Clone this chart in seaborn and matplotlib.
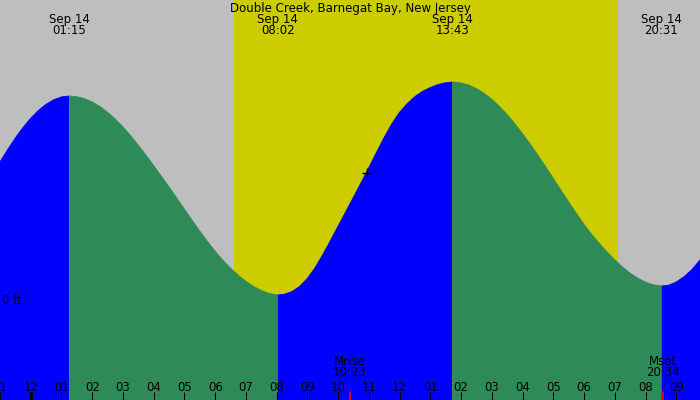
import numpy as np
import pandas as pd
import matplotlib
matplotlib.use("Agg")
import matplotlib.pyplot as plt
import matplotlib.transforms as mtransforms
import seaborn as sns

# --- data ---
station = "Double Creek, Barnegat Bay, New Jersey"
date_label = "Sep 14"

# hours after midnight Sep 14, tide height in feet (read every quarter hour)
tide_hours = [-1.0, -0.75, -0.5, -0.25, 0.0, 0.25, 0.5, 0.75, 1.0, 1.25,
              1.5, 1.75, 2.0, 2.25, 2.5, 2.75, 3.0, 3.25, 3.5, 3.75, 4.0, 4.25,
              4.5, 4.75, 5.0, 5.25, 5.5, 5.75, 6.0, 6.25, 6.5, 6.75, 7.0, 7.25,
              7.5, 7.75, 8.033,
              8.25, 8.5, 8.75, 9.0, 9.25, 9.5, 9.75, 10.0, 10.25, 10.5, 10.75,
              11.0, 11.25, 11.5, 11.75, 12.0, 12.25, 12.5, 12.75, 13.0, 13.25,
              13.5, 13.717,
              14.0, 14.25, 14.5, 14.75, 15.0, 15.25, 15.5, 15.75, 16.0, 16.25,
              16.5, 16.75, 17.0, 17.25, 17.5, 17.75, 18.0, 18.25, 18.5, 18.75,
              19.0, 19.25, 19.5, 19.75, 20.0, 20.25, 20.517,
              20.75, 21.0, 21.25, 21.5, 21.75, 22.0]
tide_feet = [1.392, 1.515, 1.631, 1.736, 1.828, 1.906, 1.968, 2.013, 2.041, 2.05,
             2.043, 2.023, 1.991, 1.945, 1.888, 1.819, 1.741, 1.653, 1.558, 1.457, 1.353, 1.247,
             1.14, 1.03, 0.918, 0.807, 0.698, 0.594, 0.497, 0.408, 0.328, 0.258, 0.197, 0.145,
             0.105, 0.076, 0.06,
             0.068, 0.095, 0.147, 0.227, 0.334, 0.464, 0.605, 0.75, 0.895, 1.04, 1.186,
             1.335, 1.488, 1.638, 1.775, 1.888, 1.975, 2.045, 2.098, 2.135, 2.165,
             2.183, 2.19,
             2.181, 2.159, 2.124, 2.076, 2.016, 1.945, 1.863, 1.772, 1.673, 1.568,
             1.457, 1.342, 1.225, 1.107, 0.99, 0.876, 0.765, 0.665, 0.574, 0.489,
             0.411, 0.34, 0.278, 0.227, 0.188, 0.162, 0.15,
             0.158, 0.191, 0.243, 0.312, 0.403, 0.504]

extreme_hours = [1.25, 8.033, 13.717, 20.517]
extreme_times = ["01:15", "08:02", "13:43", "20:31"]
extreme_kinds = ["high", "low", "high", "low"]

sunrise_hour = 6.607
sunset_hour = 19.107

moon_hours = [10.383, 20.567]
moon_names = ["Mrise", "Mset"]
moon_times = ["10:23", "20:34"]

now_hour = 10.925
now_feet = 1.28

hour_ticks = list(range(-1, 22))
hour_labels = ["11", "12", "01", "02", "03", "04", "05", "06", "07", "08", "09", "10",
               "11", "12", "01", "02", "03", "04", "05", "06", "07", "08", "09"]

# colours
night = "#BEBEBE"
day = "#CCCC00"
palette = {"rising": "#0000FF", "falling": "#2E8B57"}

# --- split curve into rising / falling pieces ---
df = pd.DataFrame({"hour": tide_hours, "feet": tide_feet})
bounds = [tide_hours[0]] + extreme_hours + [tide_hours[-1]]
parts = []
for i in range(len(bounds) - 1):
    seg = df[(df.hour >= bounds[i]) & (df.hour <= bounds[i + 1])].copy()
    if i < len(extreme_kinds):
        rising = extreme_kinds[i] == "high"
    else:
        rising = extreme_kinds[-1] == "low"
    seg["segment"] = i
    seg["phase"] = "rising" if rising else "falling"
    parts.append(seg)
curve = pd.concat(parts, ignore_index=True)

# --- plot ---
sns.set_theme(style="white")
plt.rcParams["font.family"] = ["DejaVu Sans"]
plt.rcParams["text.color"] = "black"

fig = plt.figure(figsize=(7, 4), dpi=100)
ax = fig.add_axes([0, 0, 1, 1])
ax.set_axisbelow(False)
ax.set_facecolor(night)
ax.axvspan(sunrise_hour, sunset_hour, color=day, lw=0)

for seg_id, seg in curve.groupby("segment"):
    ax.fill_between(seg.hour, seg.feet, -5, color=palette[seg.phase.iloc[0]], lw=0)
sns.lineplot(data=curve, x="hour", y="feet", hue="phase", units="segment",
             estimator=None, palette=palette, lw=0.6, legend=False, sort=False, ax=ax)

ax.set_xlim(-0.958, 21.77)
ax.set_ylim(-0.99, 3.01)
ax.set_xlabel("")
ax.set_ylabel("")
for s in ax.spines.values():
    s.set_visible(False)

ax.set_xticks(hour_ticks)
ax.set_xticklabels(hour_labels)
ax.set_yticks([])
ax.tick_params(axis="x", direction="in", length=6, width=0.75, pad=-14,
               labelsize=8.5, colors="black", bottom=True)
# thick tick at midnight
ax.xaxis.get_major_ticks()[1].tick1line.set_markeredgewidth(2.2)

top_tf = mtransforms.blended_transform_factory(ax.transData, ax.transAxes)
left_tf = mtransforms.blended_transform_factory(ax.transAxes, ax.transData)

ax.text(0.5, 1 - 2 / 400, station, transform=ax.transAxes, ha="center", va="top",
        fontsize=8.5, color="black")
for h, t in zip(extreme_hours, extreme_times):
    ax.text(h, 1 - 13 / 400, f"{date_label}\n{t}", transform=top_tf,
            ha="center", va="top", fontsize=8.5, linespacing=0.85, color="black")

for h, name, t in zip(moon_hours, moon_names, moon_times):
    ax.axvline(h, ymin=0, ymax=8 / 400, color="red", lw=1.2)
    ax.text(h, 1 - 355 / 400, f"{name}\n{t}", transform=top_tf,
            ha="center", va="top", fontsize=8.5, linespacing=0.85, color="black")

ax.text(2.5 / 700, 0, "0 ft", transform=left_tf, ha="left", va="center",
        fontsize=8.5, color="black")
ax.plot(now_hour, now_feet, marker="+", color="black", ms=6.5, mew=1)

fig.savefig("out.png", dpi=100)
